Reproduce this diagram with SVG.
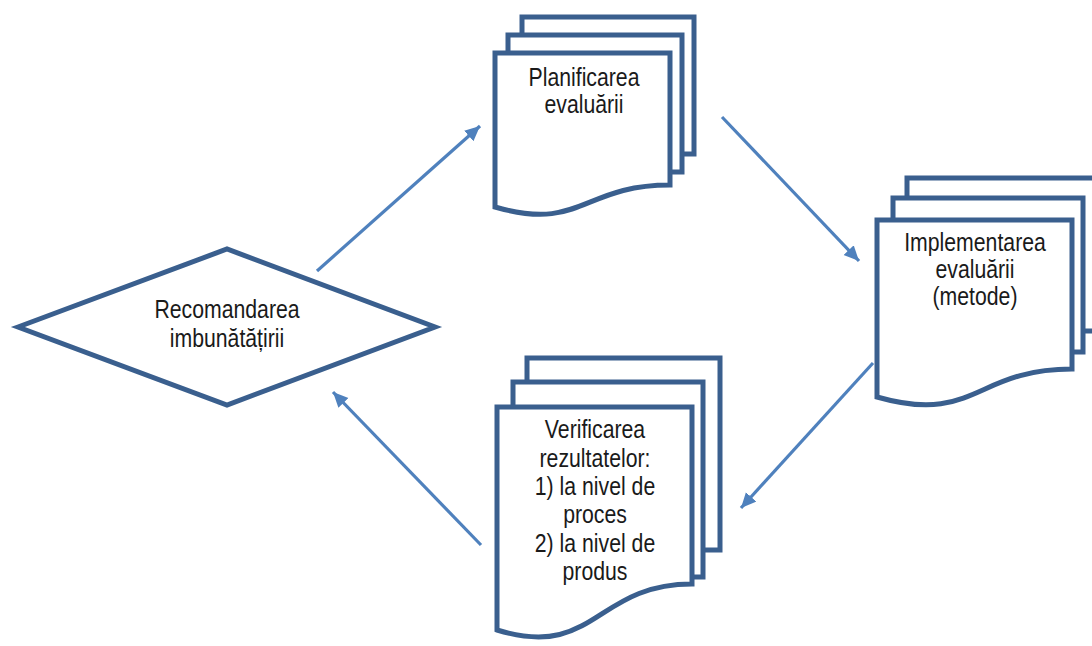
<svg xmlns="http://www.w3.org/2000/svg" width="1092" height="646" viewBox="0 0 1092 646">
<style>
.pg{fill:#fff;stroke:#3A5F8E;stroke-width:5;stroke-linejoin:miter}
.dm{fill:#fff;stroke:#3A5F8E;stroke-width:5;stroke-linejoin:miter}
.lbl{font-family:"Liberation Sans",Arial,sans-serif;font-size:25px;fill:#1a1a1a;text-anchor:middle}
.ar{stroke:#4F81BD;stroke-width:3.2;fill:none}
</style>
<defs>
<marker id="ah" markerUnits="userSpaceOnUse" markerWidth="18" markerHeight="16" refX="15" refY="7" orient="auto">
<path d="M0,0 L15,7 L0,14 Z" fill="#4F81BD"/>
</marker>
</defs>
<rect width="1092" height="646" fill="#fff"/>
<g id="connectors">
<line class="ar" x1="317" y1="271" x2="480" y2="126" marker-end="url(#ah)"/>
<line class="ar" x1="722" y1="117" x2="859" y2="261" marker-end="url(#ah)"/>
<line class="ar" x1="873" y1="363" x2="741" y2="508" marker-end="url(#ah)"/>
<line class="ar" x1="481" y1="545" x2="333" y2="392" marker-end="url(#ah)"/>
</g>
<g id="planificarea">
<rect class="pg" x="522" y="17" width="172" height="137"/>
<rect class="pg" x="508" y="35" width="174" height="137"/>
<path class="pg" d="M495,53 H670 V185 C582,185 582,232 495,207 Z"/>
<g class="lbl" transform="translate(584,0) scale(0.85,1)">
<text x="0" y="86">Planificarea</text>
<text x="0" y="113">evaluării</text>
</g>
</g>
<g id="implementarea">
<rect class="pg" x="907" y="178" width="190" height="153"/>
<rect class="pg" x="893" y="198" width="190" height="154"/>
<path class="pg" d="M877,220 H1072 V369 C975,369 975,425 877,397 Z"/>
<g class="lbl" transform="translate(975,0) scale(0.85,1)">
<text x="0" y="251">Implementarea</text>
<text x="0" y="278">evaluării</text>
<text x="0" y="305">(metode)</text>
</g>
</g>
<g id="verificarea">
<rect class="pg" x="527" y="358" width="193" height="192"/>
<rect class="pg" x="513" y="382" width="190" height="195"/>
<path class="pg" d="M497,407 H692 V584 C595,584 595,660 497,630 Z"/>
<g class="lbl" transform="translate(595,0) scale(0.85,1)">
<text x="0" y="438">Verificarea</text>
<text x="0" y="467">rezultatelor:</text>
<text x="0" y="495">1) la nivel de</text>
<text x="0" y="523">proces</text>
<text x="0" y="552">2) la nivel de</text>
<text x="0" y="580">produs</text>
</g>
</g>
<g id="recomandarea">
<path class="dm" d="M18,327 L227,249 L435,327 L227,405 Z"/>
<g class="lbl" transform="translate(227,0) scale(0.85,1)">
<text x="0" y="318">Recomandarea</text>
<text x="0" y="347">imbunătățirii</text>
</g>
</g>
</svg>
